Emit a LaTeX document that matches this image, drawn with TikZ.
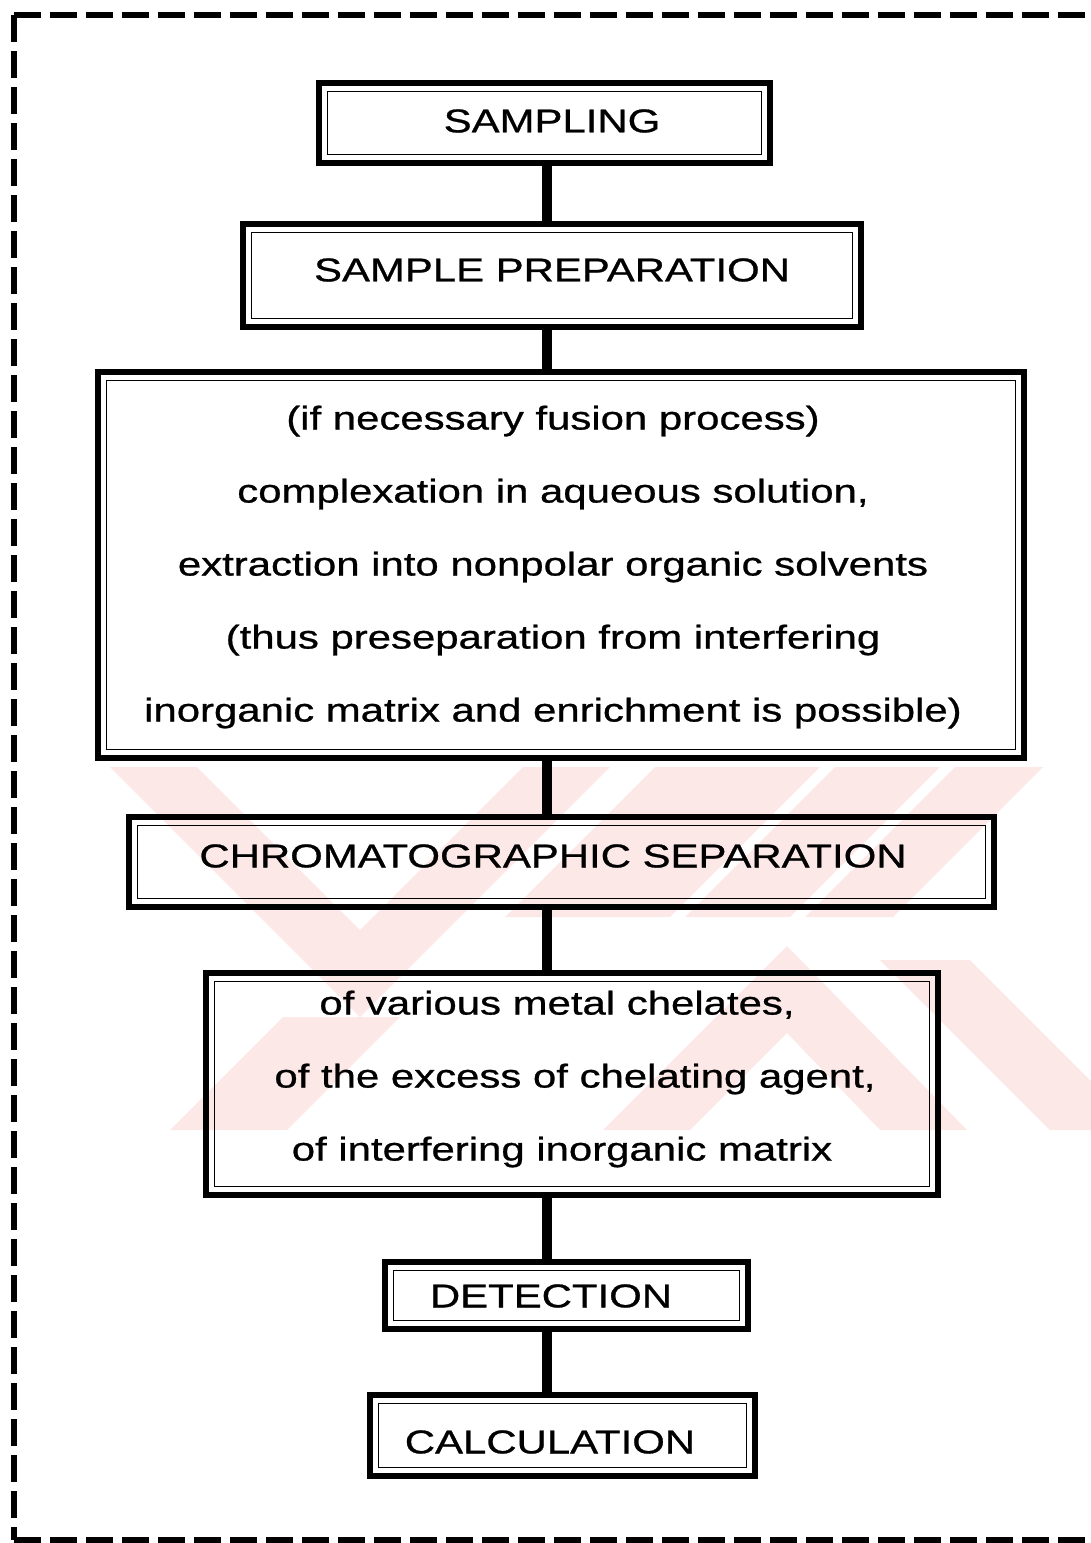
\documentclass[tikz,border=0pt]{standalone}
\usepackage{fontspec}
\setmainfont{Liberation Sans}[FakeStretch=1.27, FakeBold=0.8]
\usepackage{tikz}
\usepackage{xcolor}
\definecolor{wmpink}{RGB}{253,232,232}
\tikzset{stagebox/.style={draw, line width=3pt, inner sep=0pt, outer sep=0pt}}
\tikzset{innerline/.style={line width=0.7pt}}
\tikzset{stagetext/.style={font=\fontsize{16.5pt}{36.5pt}\selectfont, align=center, inner sep=0pt}}
\tikzset{link/.style={line width=5pt}}
\tikzset{frame/.style={line width=3pt, dash pattern=on 13.5pt off 4.5pt}}

\begin{document}
\begin{tikzpicture}[x=0.5pt, y=-0.5pt]
  \useasboundingbox (0,0) rectangle (1091,1543);
  \clip (0,0) rectangle (1091,1543);

  \fill[wmpink] (110,767) -- (197,767) -- (360,930) -- (523,767) -- (610,767) -- (360,1017) -- cycle;
  \fill[wmpink] (170,1130) -- (287,1130) -- (400,1017) -- (283,1017) -- cycle;
  \fill[wmpink] (655,767) -- (820,767) -- (670,917) -- (505,917) -- cycle;
  \fill[wmpink] (835,767) -- (940,767) -- (790,917) -- (685,917) -- cycle;
  \fill[wmpink] (955,767) -- (1043,767) -- (893,917) -- (805,917) -- cycle;
  \fill[wmpink] (603,1130) -- (787,946) -- (967,1130) -- (880,1130) -- (787,1033) -- (690,1130) -- cycle;
  \fill[wmpink] (880,960) -- (970,960) -- (1091,1081) -- (1091,1130) -- (1050,1130) -- cycle;

  \draw[frame] (14,15) -- (1100,15);
  \draw[frame] (14,15) -- (14,1540);
  \draw[frame] (14,1540) -- (1100,1540);

  \node[stagebox, minimum width=225.5pt, minimum height=40pt] (sampling) at (544.5,123) {};
  \node[stagebox, minimum width=309pt, minimum height=51.5pt] (prep) at (552,275.5) {};
  \node[stagebox, minimum width=463pt, minimum height=193pt] (fusion) at (561,565) {};
  \node[stagebox, minimum width=432.5pt, minimum height=45pt] (chroma) at (561.5,862) {};
  \node[stagebox, minimum width=366pt, minimum height=111pt] (chelate) at (572,1084) {};
  \node[stagebox, minimum width=181.5pt, minimum height=33.5pt] (detect) at (566.5,1295.5) {};
  \node[stagebox, minimum width=192.5pt, minimum height=40.5pt] (calc) at (562.5,1435.5) {};

  \foreach \b in {sampling,prep,fusion,chroma,chelate,detect,calc}
    \draw[innerline] ([shift={(8.5,8.5)}]\b.north west) rectangle ([shift={(-8.5,-8.5)}]\b.south east);

  \node[stagetext] (samplingtext) at (552,121) {SAMPLING};
  \node[stagetext] (preptext) at (552,270) {SAMPLE PREPARATION};
  \node[stagetext] (fusiontext) at (553,567) {(if necessary fusion process)\\
    complexation in aqueous solution,\\
    extraction into nonpolar organic solvents\\
    (thus preseparation from interfering\\
    inorganic matrix and enrichment is possible)};
  \node[stagetext] (chromatext) at (553,856) {CHROMATOGRAPHIC SEPARATION};
  \node[stagetext] (chelatetext) at (566,1079) {of various metal chelates,\hspace*{9pt}\\
    \hspace*{9pt}of the excess of chelating agent,\\
    of interfering inorganic matrix\hspace*{4pt}};
  \node[stagetext] (detecttext) at (551,1296) {DETECTION};
  \node[stagetext] (calctext) at (550,1442) {CALCULATION};

  \coordinate (spine) at (547,0);
  \draw[link] (sampling.south -| spine) -- (prep.north -| spine);
  \draw[link] (prep.south -| spine) -- (fusion.north -| spine);
  \draw[link] (fusion.south -| spine) -- (chroma.north -| spine);
  \draw[link] (chroma.south -| spine) -- (chelate.north -| spine);
  \draw[link] (chelate.south -| spine) -- (detect.north -| spine);
  \draw[link] (detect.south -| spine) -- (calc.north -| spine);
\end{tikzpicture}
\end{document}
